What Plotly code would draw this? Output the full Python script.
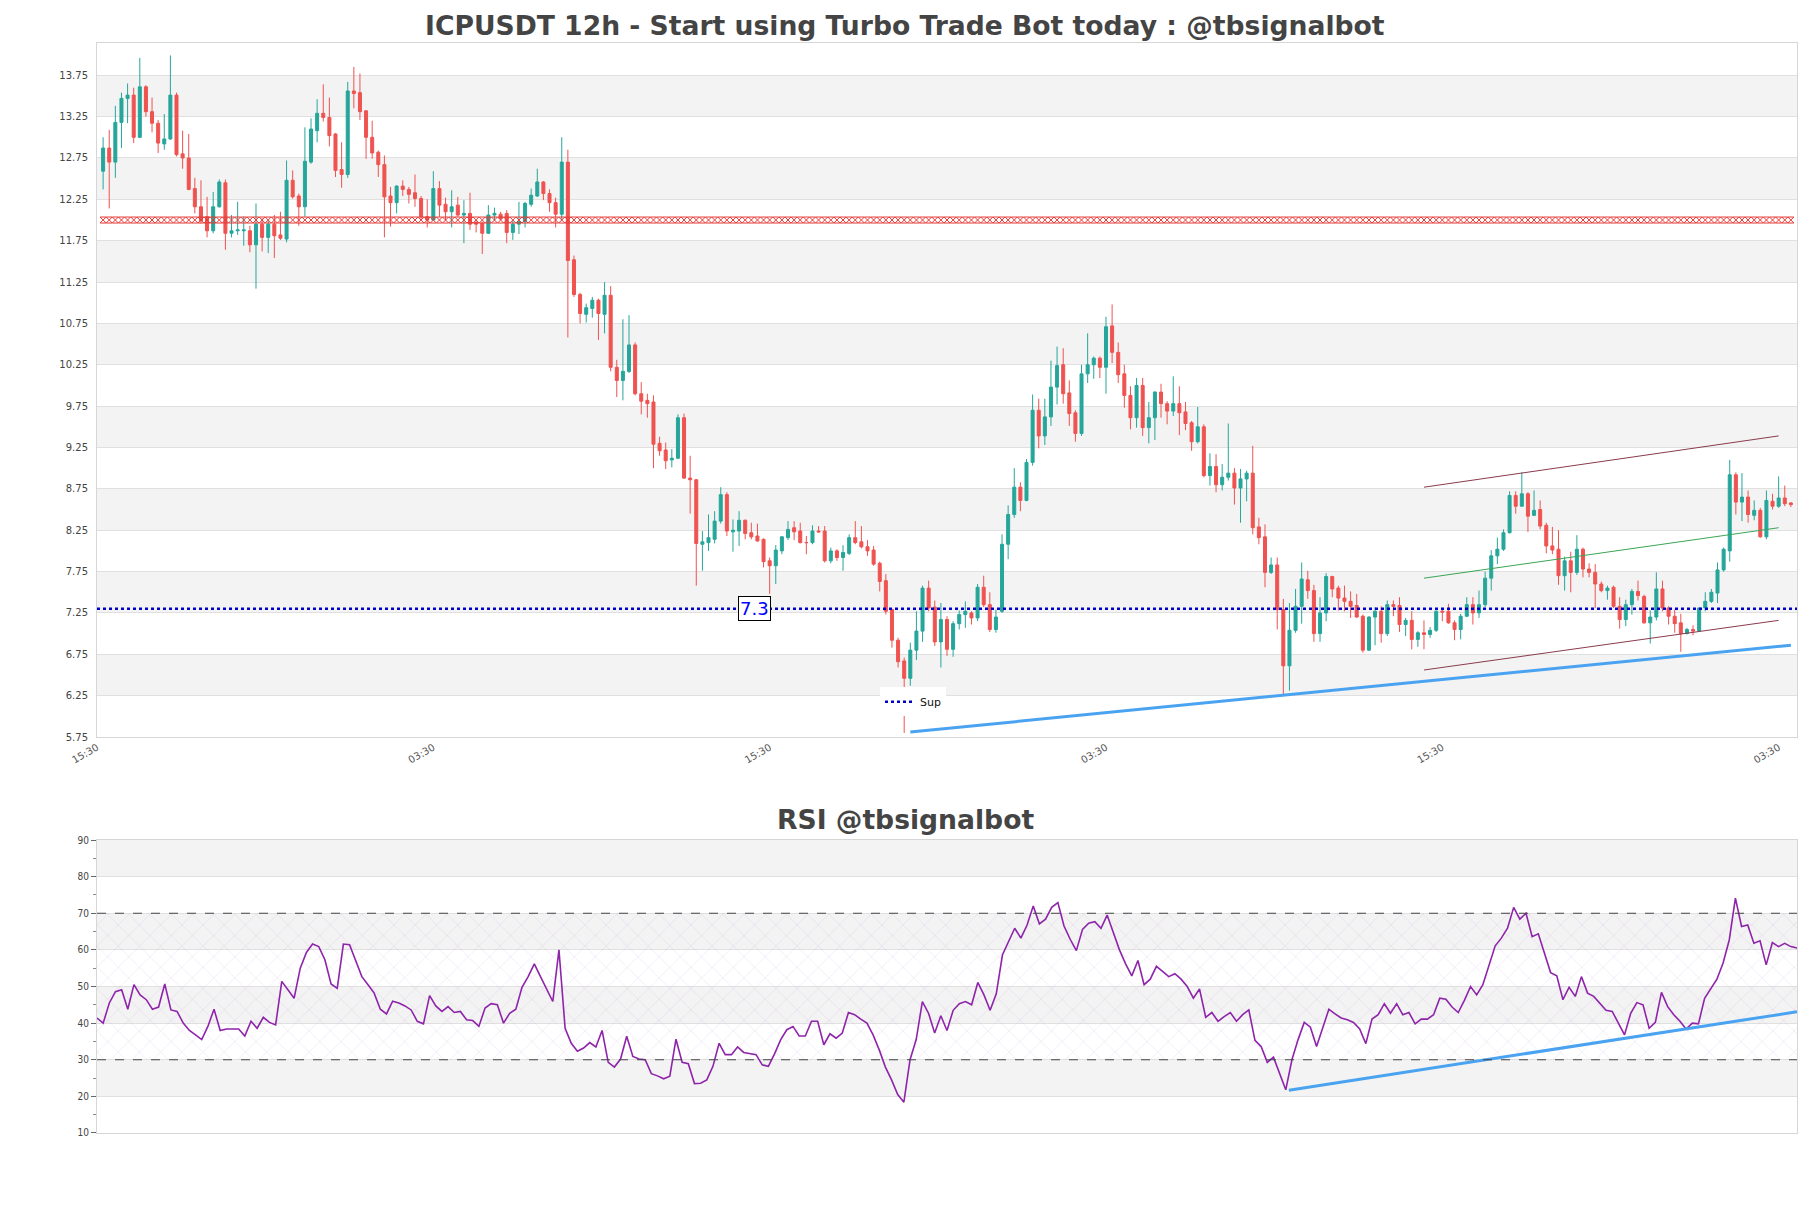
import numpy as np
import plotly.graph_objects as go

TITLE = "ICPUSDT 12h - Start using Turbo Trade Bot today : @tbsignalbot"
RSI_TITLE = "RSI @tbsignalbot"

# candles (one entry per candle, left to right)
OPEN = [12.59, 12.87, 12.70, 13.18, 13.47, 13.51, 13.00, 13.61, 13.31, 13.17,
        12.92, 12.98, 13.51, 12.80, 12.75, 12.38, 12.16, 12.04, 11.87, 12.16,
        12.45, 11.84, 11.87, 11.87, 11.87, 11.70, 11.95, 11.79, 11.95, 11.82,
        11.77, 12.48, 12.29, 12.16, 12.70, 13.08, 13.29, 13.24, 13.04, 12.61,
        12.55, 13.56, 13.54, 13.32, 13.00, 12.82, 12.67, 12.29, 12.21, 12.41,
        12.37, 12.33, 12.26, 12.04, 12.00, 12.38, 12.19, 12.10, 12.18, 12.06,
        12.08, 11.97, 11.96, 11.84, 12.06, 12.07, 12.08, 11.85, 11.95, 11.98,
        12.19, 12.29, 12.46, 12.32, 12.21, 12.07, 12.70, 11.52, 11.10, 10.86,
        10.93, 11.03, 10.86, 11.09, 10.22, 10.06, 10.17, 10.49, 9.90, 9.82,
        9.80, 9.30, 9.22, 9.10, 9.12, 9.61, 8.88, 8.86, 8.08, 8.10,
        8.14, 8.36, 8.68, 8.23, 8.24, 8.37, 8.22, 8.18, 8.14, 7.88,
        7.82, 8.00, 8.16, 8.28, 8.24, 8.10, 8.10, 8.24, 8.24, 7.88,
        8.00, 7.92, 7.97, 8.16, 8.11, 8.05, 8.01, 7.85, 7.64, 7.29,
        6.92, 6.67, 6.46, 6.80, 7.03, 7.55, 7.32, 6.90, 7.17, 6.81,
        7.12, 7.23, 7.25, 7.19, 7.56, 7.35, 7.05, 7.27, 8.08, 8.44,
        8.77, 8.61, 9.07, 9.70, 9.39, 9.62, 9.98, 10.25, 9.91, 9.67,
        9.42, 10.14, 10.25, 10.33, 10.22, 10.72, 10.40, 10.14, 9.88, 9.61,
        10.00, 9.49, 9.61, 9.92, 9.78, 9.69, 9.78, 9.68, 9.55, 9.32,
        9.50, 8.91, 9.02, 8.80, 8.89, 8.94, 8.76, 8.87, 8.94, 8.29,
        8.17, 7.74, 7.83, 7.29, 6.61, 7.04, 7.33, 7.65, 7.52, 7.00,
        7.25, 7.69, 7.55, 7.43, 7.39, 7.34, 7.21, 6.80, 7.20, 7.27,
        7.00, 7.35, 7.34, 7.11, 7.16, 6.93, 7.01, 6.99, 7.04, 7.27,
        7.27, 7.13, 7.05, 7.21, 7.35, 7.25, 7.35, 7.67, 7.94, 8.02,
        8.22, 8.67, 8.54, 8.69, 8.43, 8.50, 8.31, 8.06, 8.02, 7.70,
        7.88, 7.74, 8.02, 7.78, 7.74, 7.60, 7.52, 7.56, 7.33, 7.17,
        7.35, 7.51, 7.45, 7.13, 7.20, 7.54, 7.31, 7.21, 7.13, 7.00,
        7.05, 7.03, 7.31, 7.39, 7.49, 7.77, 8.00, 8.92, 8.59, 8.65,
        8.43, 8.49, 8.17, 8.60, 8.54, 8.64, 8.58]
HIGH = [13.00, 13.09, 13.38, 13.54, 13.65, 13.60, 13.96, 13.63, 13.48, 13.21,
        13.28, 13.99, 13.54, 13.08, 13.04, 12.51, 12.48, 12.28, 12.34, 12.49,
        12.49, 12.06, 12.22, 12.04, 11.93, 12.20, 12.02, 12.00, 12.06, 12.10,
        12.72, 12.60, 12.32, 13.12, 13.23, 13.46, 13.64, 13.48, 13.05, 12.94,
        13.67, 13.85, 13.77, 13.33, 13.20, 12.84, 12.78, 12.40, 12.42, 12.48,
        12.40, 12.55, 12.29, 12.25, 12.59, 12.47, 12.27, 12.36, 12.28, 12.24,
        12.33, 12.00, 11.98, 12.18, 12.15, 12.10, 12.12, 12.00, 12.22, 12.22,
        12.38, 12.62, 12.47, 12.37, 12.27, 13.00, 12.85, 11.57, 11.12, 10.99,
        11.07, 11.05, 11.25, 11.20, 10.31, 10.80, 10.85, 10.52, 10.04, 9.90,
        9.88, 9.38, 9.31, 9.23, 9.65, 9.66, 9.15, 8.87, 8.24, 8.44,
        8.48, 8.77, 8.71, 8.38, 8.48, 8.38, 8.34, 8.33, 8.15, 7.92,
        8.07, 8.18, 8.36, 8.36, 8.34, 8.18, 8.31, 8.30, 8.30, 8.04,
        8.02, 8.07, 8.20, 8.36, 8.30, 8.13, 8.06, 7.87, 7.72, 7.30,
        6.95, 6.71, 6.89, 7.27, 7.58, 7.64, 7.40, 7.37, 7.21, 7.15,
        7.28, 7.39, 7.27, 7.60, 7.70, 7.50, 7.29, 8.20, 8.55, 9.00,
        8.83, 9.11, 9.89, 9.84, 9.84, 10.30, 10.47, 10.45, 10.06, 9.70,
        10.25, 10.63, 10.35, 10.35, 10.83, 10.98, 10.52, 10.25, 9.99, 10.09,
        10.09, 9.80, 9.93, 10.02, 9.81, 10.11, 9.99, 9.80, 9.57, 9.74,
        9.53, 9.18, 9.17, 9.05, 9.54, 9.00, 8.99, 8.97, 9.27, 8.40,
        8.32, 7.92, 7.92, 7.42, 7.37, 7.54, 7.86, 7.76, 7.59, 7.44,
        7.73, 7.70, 7.58, 7.58, 7.51, 7.48, 7.23, 7.21, 7.32, 7.33,
        7.40, 7.40, 7.44, 7.19, 7.27, 7.03, 7.16, 7.08, 7.28, 7.29,
        7.36, 7.16, 7.24, 7.44, 7.44, 7.52, 7.75, 8.01, 8.16, 8.26,
        8.72, 8.72, 8.95, 8.71, 8.73, 8.61, 8.34, 8.29, 8.25, 7.93,
        7.99, 8.19, 8.04, 7.85, 7.84, 7.63, 7.58, 7.58, 7.44, 7.41,
        7.54, 7.64, 7.47, 7.28, 7.74, 7.64, 7.33, 7.29, 7.24, 7.07,
        7.10, 7.31, 7.50, 7.54, 7.86, 8.04, 9.10, 8.95, 8.94, 8.73,
        8.61, 8.52, 8.73, 8.69, 8.90, 8.79, 8.59]
LOW = [12.37, 12.14, 12.51, 12.87, 13.17, 12.93, 12.99, 13.25, 13.06, 12.81,
       12.85, 12.97, 12.77, 12.62, 12.36, 12.08, 11.96, 11.79, 11.84, 12.15,
       11.64, 11.79, 11.82, 11.69, 11.61, 11.17, 11.62, 11.60, 11.54, 11.76,
       11.73, 12.26, 11.93, 12.04, 12.68, 12.94, 13.19, 12.89, 12.52, 12.39,
       12.51, 13.35, 13.21, 12.74, 12.74, 12.52, 11.79, 11.92, 12.08, 12.29,
       12.20, 12.16, 11.99, 11.91, 11.99, 12.04, 11.99, 11.91, 12.04, 11.72,
       11.88, 11.85, 11.59, 11.83, 11.99, 12.00, 11.72, 11.76, 11.83, 11.91,
       12.16, 12.28, 12.24, 12.10, 11.91, 11.99, 10.58, 11.07, 10.75, 10.76,
       10.82, 10.55, 10.63, 10.17, 9.86, 9.82, 10.15, 9.88, 9.65, 9.61,
       9.00, 9.15, 8.99, 9.01, 9.11, 8.87, 8.45, 7.58, 7.76, 8.00,
       8.09, 8.33, 8.18, 7.99, 8.06, 8.14, 8.14, 8.11, 7.80, 7.48,
       7.60, 7.96, 8.13, 8.13, 8.09, 7.96, 8.08, 8.22, 7.86, 7.85,
       7.88, 7.76, 7.95, 8.08, 8.03, 7.94, 7.82, 7.51, 7.23, 6.83,
       6.59, 5.80, 6.37, 6.68, 6.90, 7.27, 6.85, 6.59, 6.73, 6.72,
       7.05, 7.07, 7.11, 7.15, 7.32, 7.02, 7.01, 7.25, 7.90, 8.40,
       8.48, 8.60, 9.03, 9.24, 9.28, 9.51, 9.77, 9.78, 9.51, 9.32,
       9.39, 10.03, 10.08, 10.09, 9.90, 10.27, 10.03, 9.73, 9.47, 9.49,
       9.39, 9.30, 9.34, 9.61, 9.53, 9.63, 9.40, 9.46, 9.21, 9.30,
       8.89, 8.79, 8.71, 8.73, 8.85, 8.56, 8.34, 8.60, 8.20, 8.08,
       7.56, 7.72, 7.05, 6.25, 6.31, 7.01, 7.12, 7.42, 6.90, 6.90,
       7.15, 7.44, 7.28, 7.27, 7.19, 7.19, 6.77, 6.79, 6.86, 6.89,
       6.97, 7.21, 7.02, 6.97, 6.81, 6.84, 6.81, 6.95, 7.02, 7.15,
       7.12, 6.92, 6.93, 7.20, 7.11, 7.19, 7.32, 7.52, 7.84, 8.00,
       8.21, 8.45, 8.54, 8.23, 8.42, 8.26, 7.97, 7.96, 7.59, 7.52,
       7.50, 7.71, 7.68, 7.68, 7.31, 7.50, 7.41, 7.31, 7.06, 7.09,
       7.23, 7.40, 7.12, 6.88, 7.16, 7.27, 7.11, 7.01, 6.78, 6.99,
       6.98, 7.02, 7.27, 7.37, 7.37, 7.75, 7.87, 8.44, 8.36, 8.34,
       8.37, 8.16, 8.14, 8.50, 8.52, 8.54, 8.53]
CLOSE = [12.87, 12.70, 13.18, 13.47, 13.51, 13.00, 13.61, 13.31, 13.17, 12.93,
         12.98, 13.51, 12.79, 12.75, 12.37, 12.16, 11.99, 11.87, 12.16, 12.46,
         11.84, 11.87, 11.88, 11.88, 11.70, 11.95, 11.79, 11.95, 11.81, 11.78,
         12.48, 12.28, 12.16, 12.71, 13.10, 13.29, 13.24, 13.02, 12.60, 12.55,
         13.56, 13.53, 13.31, 13.00, 12.81, 12.67, 12.28, 12.21, 12.41, 12.37,
         12.31, 12.26, 12.04, 12.00, 12.38, 12.18, 12.10, 12.16, 12.06, 12.08,
         11.95, 11.95, 11.84, 12.06, 12.08, 12.02, 11.85, 11.95, 11.98, 12.20,
         12.30, 12.46, 12.32, 12.21, 12.07, 12.70, 11.51, 11.10, 10.87, 10.94,
         11.03, 10.87, 11.09, 10.22, 10.06, 10.17, 10.49, 9.90, 9.81, 9.78,
         9.29, 9.21, 9.09, 9.12, 9.61, 8.88, 8.86, 8.09, 8.11, 8.16,
         8.36, 8.68, 8.24, 8.25, 8.37, 8.21, 8.17, 8.12, 7.87, 7.82,
         8.01, 8.17, 8.26, 8.23, 8.10, 8.10, 8.24, 8.23, 7.88, 8.00,
         7.92, 7.98, 8.16, 8.10, 8.05, 8.00, 7.84, 7.63, 7.27, 6.92,
         6.66, 6.46, 6.80, 7.03, 7.55, 7.31, 6.90, 7.17, 6.81, 7.12,
         7.23, 7.27, 7.19, 7.56, 7.35, 7.05, 7.20, 8.08, 8.44, 8.77,
         8.61, 9.07, 9.70, 9.39, 9.62, 9.98, 10.24, 9.90, 9.66, 9.42,
         10.14, 10.25, 10.33, 10.22, 10.71, 10.40, 10.13, 9.88, 9.61, 10.00,
         9.49, 9.61, 9.92, 9.78, 9.69, 9.78, 9.67, 9.54, 9.32, 9.50,
         8.91, 9.02, 8.80, 8.89, 8.94, 8.76, 8.87, 8.94, 8.28, 8.16,
         7.74, 7.83, 7.29, 6.61, 7.04, 7.33, 7.66, 7.52, 7.00, 7.25,
         7.69, 7.54, 7.43, 7.39, 7.33, 7.20, 6.80, 7.20, 7.27, 7.00,
         7.35, 7.33, 7.11, 7.16, 6.93, 7.01, 6.99, 7.04, 7.27, 7.26,
         7.13, 7.05, 7.21, 7.35, 7.25, 7.35, 7.67, 7.94, 8.02, 8.22,
         8.67, 8.54, 8.69, 8.42, 8.49, 8.30, 8.06, 8.01, 7.70, 7.88,
         7.74, 8.02, 7.78, 7.74, 7.60, 7.52, 7.55, 7.33, 7.17, 7.35,
         7.51, 7.46, 7.13, 7.20, 7.54, 7.31, 7.21, 7.12, 7.00, 7.05,
         7.03, 7.31, 7.39, 7.50, 7.77, 8.02, 8.92, 8.59, 8.65, 8.44,
         8.49, 8.17, 8.61, 8.54, 8.64, 8.57, 8.56]

RSI = [41.4, 40, 45.5, 48.6, 49.1, 43.8, 50.5, 47.7, 46.4, 43.8,
       44.4, 50.7, 43.6, 43.2, 40, 38, 36.8, 35.5, 39.1, 43.8,
       38, 38.4, 38.4, 38.4, 36.5, 40.5, 38.6, 41.6, 40.2, 39.5,
       51.4, 49.1, 46.8, 55, 59.3, 61.6, 60.9, 57.3, 50.7, 49.5,
       61.6, 61.4, 57.3, 52.7, 50.5, 48.2, 43.8, 42.5, 46, 45.5,
       44.7, 43.6, 40.5, 39.8, 47.5, 44.7, 43.2, 44.5, 42.9, 43.2,
       40.9, 40.7, 39.1, 44.1, 45.3, 45, 40, 42.7, 43.8, 49.8,
       52.7, 56.2, 52.7, 49.5, 45.9, 60, 38.6, 34.5, 32.3, 33.2,
       34.7, 33.5, 38, 29.3, 28, 30.2, 36.4, 30.9, 30.2, 30,
       26.2, 25.6, 24.8, 25.5, 35.6, 29.3, 28.9, 23.5, 23.6, 24.5,
       28.2, 34.5, 31.4, 31.4, 33.5, 32, 31.8, 31.4, 28.6, 28.2,
       31.6, 35.5, 38.2, 39.1, 36.5, 36.5, 40.5, 40.5, 34.1, 37.1,
       35.9, 37.3, 42.9, 42.3, 41.1, 40, 36.8, 32.7, 28, 24.5,
       20.5, 18.4,
       30, 35.5, 45.9, 42.7, 37.3, 42, 38, 43.5, 45.3, 45.9,
       45, 51.1, 47.7, 43.5, 48, 58.6, 62.3, 65.9, 63.2, 66.8,
       72, 67.1, 68.4, 71.6, 72.9, 66.5, 62.9, 59.8, 65.6, 67.3,
       67.7, 65.9, 69.5, 64.7, 60, 56.2, 52.9, 57.1, 50.5, 52,
       55.5, 54.1, 52.7, 53.5, 52, 50, 46.8, 49.3, 41.6, 42.9,
       40.5, 41.8, 42.9, 40.5, 42.3, 43.6, 35.3, 33.6, 29.3, 30.7,
       26.4, 21.8, 30, 35.5, 40.2, 38.9, 33.6, 38.6, 43.8, 42.5,
       41.4, 40.9, 40.2, 38.4, 34.4, 41.1, 42.3, 45.3, 42.7, 45.3,
       42.3, 42.9, 39.8, 41.1, 41.1, 42.3, 46.8, 46.5, 44.4, 42.9,
       46.2, 50, 47.7, 50.5, 55.5, 61.1, 63.2, 65.9, 71.6, 68.4,
       70, 63.6, 64.4, 59.1, 53.8, 52.9, 46.4, 49.8, 47.3, 52.7,
       48.2, 47.3, 45.3, 43.5, 43.2, 40, 36.8, 42.7, 45.6, 45,
       38.6, 40.2, 48.4, 44.5, 42.3, 40.5, 38.4, 40, 39.8, 46.8,
       49.3, 52, 56.4, 62.7, 74.1, 66.4, 66.8, 61.8, 62.5, 55.9,
       62, 60.9, 61.8, 60.9, 60.5]

TIME_LABELS = ["15:30", "03:30", "15:30", "03:30", "15:30", "03:30"]
TIME_TICK_AT = [-1, 54, 109, 164, 219, 274]  # candle index under each label

RESISTANCE = 12.0
SUPPORT = 7.3
SUP_TREND_X = [132, 276]
SUP_TREND_Y = [5.81, 6.86]
CHANNEL_X = [216, 274]
CHANNEL_UP = [8.77, 9.39]
CHANNEL_MID = [7.67, 8.28]
CHANNEL_LOW = [6.56, 7.16]
RSI_TREND_X = [193.5, 276]
RSI_TREND_Y = [21.7, 43.1]
RSI_OB, RSI_OS = 70, 30

GREEN = "#26a69a"
RED = "#ef5350"
TREND_BLUE = "#4aa3f0"
PURPLE = "#8e24aa"

n = len(CLOSE)
cx = list(range(n))
rx = list(range(len(RSI)))

fig = go.Figure()

# RSI hatched zone between 30 and 70
fig.add_trace(go.Scatter(x=[rx[0], rx[-1]], y=[RSI_OS, RSI_OS], xaxis="x2", yaxis="y2",
                         mode="lines", line=dict(width=0), showlegend=False, hoverinfo="skip"))
fig.add_trace(go.Scatter(x=[rx[0], rx[-1]], y=[RSI_OB, RSI_OB], xaxis="x2", yaxis="y2",
                         mode="lines", line=dict(width=0), fill="tonexty",
                         fillcolor="rgba(0,0,0,0)",
                         fillpattern=dict(shape="x", fgcolor="rgba(170,120,200,0.5)",
                                          bgcolor="rgba(0,0,0,0)", size=15, solidity=0.07),
                         showlegend=False, hoverinfo="skip"))

fig.add_trace(go.Candlestick(
    x=cx, open=OPEN, high=HIGH, low=LOW, close=CLOSE, name="ICPUSDT",
    increasing=dict(line=dict(color=GREEN, width=1), fillcolor=GREEN),
    decreasing=dict(line=dict(color=RED, width=1), fillcolor=RED),
    showlegend=False))

# resistance drawn as a row of hourglass marks
fig.add_trace(go.Scatter(x=cx, y=[RESISTANCE] * n, mode="markers",
                         marker=dict(symbol="hourglass-open", size=6, color="#e53935",
                                     line=dict(width=1)),
                         showlegend=False, hoverinfo="skip"))

fig.add_trace(go.Scatter(x=[-1, n], y=[SUPPORT, SUPPORT], mode="lines", name="Sup",
                         line=dict(color="#0000cd", width=2.5, dash="dot"),
                         showlegend=True))

fig.add_trace(go.Scatter(x=SUP_TREND_X, y=SUP_TREND_Y, mode="lines",
                         line=dict(color=TREND_BLUE, width=3), showlegend=False))
fig.add_trace(go.Scatter(x=CHANNEL_X, y=CHANNEL_UP, mode="lines",
                         line=dict(color="#8a3b4c", width=1), showlegend=False))
fig.add_trace(go.Scatter(x=CHANNEL_X, y=CHANNEL_LOW, mode="lines",
                         line=dict(color="#8a3b4c", width=1), showlegend=False))
fig.add_trace(go.Scatter(x=CHANNEL_X, y=CHANNEL_MID, mode="lines",
                         line=dict(color="#3aa655", width=1), showlegend=False))

fig.add_trace(go.Scatter(x=rx, y=RSI, xaxis="x2", yaxis="y2", mode="lines",
                         line=dict(color=PURPLE, width=1.6), showlegend=False))
fig.add_trace(go.Scatter(x=RSI_TREND_X, y=RSI_TREND_Y, xaxis="x2", yaxis="y2", mode="lines",
                         line=dict(color=TREND_BLUE, width=3), showlegend=False))

# alternating bands
for lo in np.arange(6.25, 13.26, 1.0):
    fig.add_shape(type="rect", xref="x domain", yref="y", x0=0, x1=1, y0=lo, y1=lo + 0.5,
                  fillcolor="#f3f3f3", line=dict(width=0), layer="below")
for lo in [20, 40, 60, 80]:
    fig.add_shape(type="rect", xref="x2 domain", yref="y2", x0=0, x1=1, y0=lo, y1=lo + 10,
                  fillcolor="#f3f3f3", line=dict(width=0), layer="below")
for lvl in [RSI_OB, RSI_OS]:
    fig.add_shape(type="line", xref="x2 domain", yref="y2", x0=0, x1=1, y0=lvl, y1=lvl,
                  line=dict(color="#444", width=1.2, dash="dash"))

fig.add_annotation(x=106.6, y=SUPPORT, xref="x", yref="y", text=str(SUPPORT),
                   showarrow=False, font=dict(size=18, color="#0000ff"),
                   bgcolor="white", bordercolor="black", borderwidth=1, borderpad=1)

title_font = dict(family="DejaVu Sans", size=26.6, color="#444", weight="bold")
fig.add_annotation(x=0.4753, y=1.0165, xref="paper", yref="paper", text=TITLE,
                   showarrow=False, font=title_font, yanchor="middle", borderpad=0)
fig.add_annotation(x=0.4753, y=0.2872, xref="paper", yref="paper", text=RSI_TITLE,
                   showarrow=False, font=title_font, yanchor="middle")

y_ticks = np.arange(5.75, 13.76, 0.5)
border = "#d6d6d6"

# the page body adds an 8px offset, so the figure is 8px smaller than the window
fig.update_layout(
    width=1803, height=1200,
    margin=dict(l=89, r=14, t=35, b=75),
    paper_bgcolor="white", plot_bgcolor="white",
    font=dict(family="DejaVu Sans", color="#444"),
    hovermode=False,
    legend=dict(x=0.4606, y=0.409, xanchor="left", yanchor="top", bgcolor="white",
                font=dict(size=11, color="#111"), itemwidth=30),
    xaxis=dict(domain=[0, 1], anchor="y", range=[-1, n], tickmode="array",
               tickvals=TIME_TICK_AT, ticktext=TIME_LABELS, tickangle=-30,
               tickfont=dict(size=10, color="#555"), showgrid=False, zeroline=False,
               showline=True, mirror=True, linecolor=border,
               rangeslider=dict(visible=False)),
    yaxis=dict(domain=[0.3633, 1], anchor="x", range=[5.75, 14.14], tickmode="array",
               tickvals=list(y_ticks), ticktext=[f"{v:.2f}" for v in y_ticks],
               tickfont=dict(size=10, color="#444"), ticks="outside", ticklen=6,
               tickcolor="rgba(0,0,0,0)", showgrid=True, gridcolor="#e0e0e0",
               zeroline=False, showline=True, mirror=True, linecolor=border),
    xaxis2=dict(domain=[0, 1], anchor="y2", range=[rx[0], rx[-1]], showticklabels=False,
                showgrid=False, zeroline=False, showline=True, mirror=True, linecolor=border),
    yaxis2=dict(domain=[0, 0.2688], anchor="x2", range=[10, 90], tickmode="array",
                tickvals=list(range(10, 91, 10)), ticks="outside", ticklen=5, tickcolor="#666",
                minor=dict(tickmode="linear", tick0=10, dtick=5, ticks="outside", ticklen=3,
                           tickcolor="#888", showgrid=False),
                tickfont=dict(size=10, color="#444", family="DejaVu Sans Condensed, Liberation Sans Narrow, DejaVu Sans"),
                showgrid=True, gridcolor="#e0e0e0", zeroline=False,
                showline=True, mirror=True, linecolor=border),
)

fig.write_html("out.html")
